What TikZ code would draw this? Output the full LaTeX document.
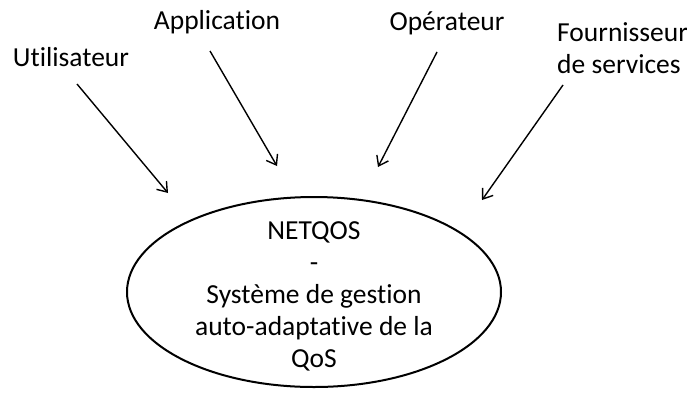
\documentclass[tikz,border=0pt]{standalone}
\usepackage{fontspec}
\setmainfont{Carlito}[Ligatures={NoCommon,NoContextual}]
\usetikzlibrary{arrows.meta}
\begin{document}
\begin{tikzpicture}[x=1pt,y=-1pt,
  lbl/.style={font=\fontsize{27.5}{32}\selectfont, inner sep=0pt},
  arr/.style={line width=1.4pt, -{Straight Barb[length=9pt,width=13pt,line width=1.4pt]}},
  oval/.style={draw, line width=2pt}]
\useasboundingbox (0,0) rectangle (687,394);
\draw[oval] (314,292) ellipse [x radius=187, y radius=95];
\node[lbl, align=center] (core) at (314,296) {NETQOS\\-\\Système de gestion\\auto-adaptative de la\\QoS};
\node[lbl] (u) at (71,57) {Utilisateur};
\node[lbl] (a) at (217,22) {Application};
\node[lbl] (o) at (447,23) {Opérateur};
\node[lbl, align=left, anchor=west] (f) at (557,48) {Fournisseur\\de services};
\coordinate (u1) at (77,84);  \coordinate (u2) at (168,193);
\coordinate (a1) at (210,51); \coordinate (a2) at (277,166);
\coordinate (o1) at (437,52); \coordinate (o2) at (378,167);
\coordinate (f1) at (563,85); \coordinate (f2) at (482,200);
\draw[arr] (u1) -- (u2);
\draw[arr] (a1) -- (a2);
\draw[arr] (o1) -- (o2);
\draw[arr] (f1) -- (f2);
\end{tikzpicture}
\end{document}
